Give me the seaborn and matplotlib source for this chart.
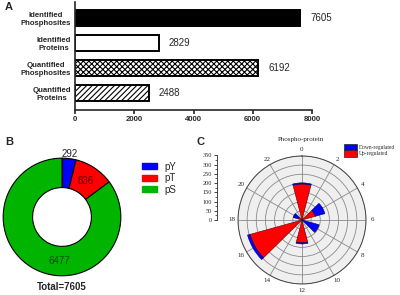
import numpy as np
import pandas as pd
import matplotlib
matplotlib.use("Agg")
import matplotlib.pyplot as plt
from matplotlib.patches import Patch
import seaborn as sns

sns.set_style("ticks")
plt.rcParams['font.family'] = ['Liberation Sans', 'DejaVu Sans']
plt.rcParams['hatch.linewidth'] = 0.8

# panel A data
count_labels = ["Identified\nPhosphosites", "Identified\nProteins",
                "Quantified\nPhosphosites", "Quantified\nProteins"]
count_values = [7605, 2829, 6192, 2488]
count_fills = ["black", "white", "white", "white"]
count_hatch = [None, None, "xxxxxx", "//////"]

# panel B data
site_labels = ["pY", "pT", "pS"]
site_values = [292, 836, 6477]
site_colors = ["#0000ff", "#ff0000", "#00b400"]

# panel C data
hours = [0, 4, 8, 12, 16, 20]
up_reg = [197, 75, 0, 125, 295, 20]
down_reg = [6, 55, 97, 6, 14, 30]

fig = plt.figure(figsize=(4.0, 2.95), dpi=100)

# ---- A: horizontal bars
axA = fig.add_axes([0.1875, 0.627, 0.5925, 0.366])
df = pd.DataFrame({"label": count_labels, "value": count_values})
sns.barplot(data=df, x="value", y="label", orient="h", color="white",
            edgecolor="black", linewidth=1.4, width=0.64, ax=axA)
for p, fc, h in zip(axA.patches, count_fills, count_hatch):
    p.set_facecolor(fc)
    if h:
        p.set_hatch(h)
for i, v in enumerate(count_values):
    axA.text(v + 330, i, str(v), va="center", ha="left", fontsize=7)
axA.set_xlim(0, 8000)
axA.set_ylim(3.68, -0.64)
axA.set_xticks([0, 2000, 4000, 6000, 8000])
axA.set_xlabel("")
axA.set_ylabel("")
sns.despine(ax=axA)
for s in ["left", "bottom"]:
    axA.spines[s].set_linewidth(1.2)
axA.tick_params(axis="y", length=0, pad=3, labelsize=5.6)
axA.tick_params(axis="x", length=3, width=1.2, pad=1.5, labelsize=5.6)
for t in axA.get_yticklabels() + axA.get_xticklabels():
    t.set_fontweight("bold")
for t in axA.get_yticklabels():
    t.set_multialignment("center")
fig.text(0.012, 0.975, "A", fontsize=8, fontweight="bold", va="center")

# ---- B: donut
axB = fig.add_axes([0.005, 0.061, 0.3, 0.407])
axB.pie(site_values, colors=site_colors, startangle=90, counterclock=False,
        wedgeprops=dict(width=0.5, edgecolor="black", linewidth=0.8))
axB.set_xlim(-1.02, 1.02)
axB.set_ylim(-1.02, 1.02)
cum = np.cumsum([0] + site_values)
tot = sum(site_values)
mid = [(cum[i] + site_values[i] / 2) / tot * 2 * np.pi for i in range(3)]
axB.text(1.08 * np.sin(mid[0]), 1.08 * np.cos(mid[0]), str(site_values[0]),
         ha="center", va="center", fontsize=7, color="#222222")
axB.text(0.74 * np.sin(mid[1]), 0.74 * np.cos(mid[1]), str(site_values[1]),
         ha="center", va="center", fontsize=7, color="#5a0000")
axB.text(-0.05, -0.75, str(site_values[2]), ha="center", va="center",
         fontsize=7, color="#004a00")
fig.text(0.155, 0.027, "Total=%d" % tot, ha="center", va="center",
         fontsize=7, fontweight="bold")
fig.legend(handles=[Patch(color=c, label=l) for c, l in zip(site_colors, site_labels)],
           loc="upper left", bbox_to_anchor=(0.345, 0.465), frameon=False,
           fontsize=7, handlelength=1.6, handleheight=0.6, labelspacing=0.15,
           handletextpad=0.7, borderaxespad=0)
fig.text(0.012, 0.52, "B", fontsize=8, fontweight="bold", va="center")

# ---- C: polar bars
serif = ['Liberation Serif', 'DejaVu Serif']
axC = fig.add_axes([0.595, 0.0373, 0.32, 0.434], projection="polar")
axC.set_theta_zero_location("N")
axC.set_theta_direction(-1)
theta = np.deg2rad(np.array(hours) * 15)
w = np.deg2rad(29)
axC.bar(theta, up_reg, width=w, color="#ff0000", edgecolor="#5a0000",
        linewidth=0.4, zorder=3)
axC.bar(theta, down_reg, bottom=up_reg, width=w, color="#0000ff",
        edgecolor="#00005a", linewidth=0.4, zorder=3)
axC.set_facecolor("#efefef")
axC.set_ylim(0, 350)
axC.set_yticks(np.arange(50, 351, 50))
axC.set_yticklabels([])
axC.set_xticks(np.deg2rad(np.arange(0, 360, 30)))
axC.set_xticklabels([str(h) for h in range(0, 24, 2)], fontsize=5, family=serif)
axC.xaxis.set_tick_params(pad=-6)
axC.grid(True, color="#8a8a8a", linewidth=0.6)
axC.spines["polar"].set_color("#444444")
axC.spines["polar"].set_linewidth(0.7)
fig.text(0.7525, 1 - 139 / 295, "Phospho-protein", fontsize=5, family=serif,
         ha="center", va="center")

axR = fig.add_axes([0.5425, 0.254, 0.001, 0.2197])
axR.set_ylim(0, 350)
axR.set_yticks(np.arange(0, 351, 50))
axR.set_yticks(np.arange(25, 351, 50), minor=True)
axR.set_xticks([])
for s in ["top", "right", "bottom"]:
    axR.spines[s].set_visible(False)
axR.spines["left"].set_linewidth(0.6)
axR.tick_params(axis="y", which="major", length=2.5, width=0.6, pad=1, labelsize=4.5)
axR.tick_params(axis="y", which="minor", length=1.5, width=0.5)
for t in axR.get_yticklabels():
    t.set_family(serif)

fig.legend(handles=[Patch(facecolor="#0000ff", edgecolor="#222222", linewidth=0.5, label="Down-regulated"),
                    Patch(facecolor="#ff0000", edgecolor="#222222", linewidth=0.5, label="Up-regulated")],
           loc="upper left", bbox_to_anchor=(0.855, 0.52), frameon=False,
           prop=dict(family=serif, size=4.0), handlelength=2.3, handleheight=1.4,
           labelspacing=0.0, handletextpad=0.3, borderaxespad=0)
fig.text(0.492, 0.52, "C", fontsize=8, fontweight="bold", va="center")

fig.savefig("out.png", dpi=100)
